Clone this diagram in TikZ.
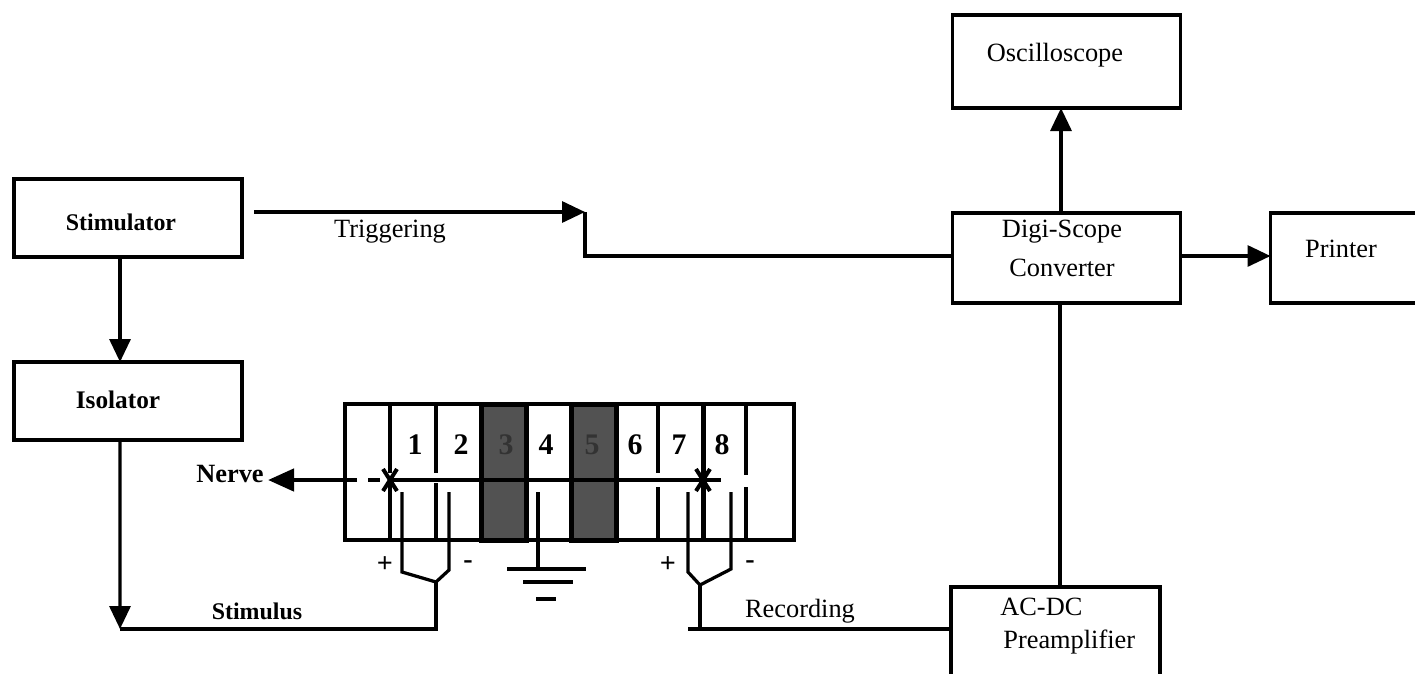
\documentclass[tikz,border=0pt]{standalone}
\usepackage{fontspec}
\setmainfont{Liberation Serif}
\usetikzlibrary{arrows.meta,positioning,calc}
\tikzset{
  box/.style        = {draw, line width=0.7mm, outer sep=0pt, minimum width=45.6mm, minimum height=18mm, inner sep=0pt},
  sig/.style        = {-{Triangle[length=4.6mm,width=4.2mm]}, line width=0.65mm},
  wire/.style       = {line width=0.65mm},
  bar/.style        = {line width=0.8mm},
  dark/.style       = {draw, line width=1mm, fill=black!68, outer sep=0pt, minimum width=9mm, inner sep=0pt},
  lbl/.style        = {font=\fontsize{15}{18}\selectfont, inner sep=0pt},
  blbl/.style       = {font=\fontsize{13.6}{16}\selectfont\bfseries, inner sep=0pt},
  num/.style        = {font=\fontsize{17}{20}\selectfont\bfseries, inner sep=0pt},
  sign/.style       = {font=\fontsize{16}{18}\selectfont\bfseries, inner sep=0pt},
}
\begin{document}
\begin{tikzpicture}[x=0.2mm,y=-0.2mm]
  \path[use as bounding box, clip] (0,0) rectangle (1415,673);
  % instruments
  \node[box, minimum height=15.6mm] (stim) at (128,218) {};
  \node[box, minimum height=15.6mm, below=21mm of stim] (isol) {};
  \node[box] (digi) at (1066.5,258) {};
  \node[box, minimum height=18.6mm, above=21mm of digi] (osc) {};
  \node[box, minimum width=34mm, right=18mm of digi] (printer) {};
  \node[box, minimum width=41.8mm, minimum height=24mm, anchor=north west] (preamp) at (951,587) {};
  \node[blbl] (stimtxt) at (121,222) {Stimulator};
  \node[blbl, font=\fontsize{14.4}{17}\selectfont\bfseries] (isoltxt) at (118,400) {Isolator};
  \node[lbl] (osctxt) at (1055,55) {Oscilloscope};
  \node[lbl] (digitxt) at (1062,232) {Digi-Scope};
  \node[lbl] (convtxt) at (1062,268) {Converter};
  \node[lbl] (printtxt) at (1341,249) {Printer};
  \node[lbl, anchor=west] (actxt) at (1000,607) {AC-DC};
  \node[lbl, anchor=west] (pretxt) at (1003,642) {Preamplifier};
  \node[lbl] (trigtxt) at (390,232) {Triggering};
  \node[blbl] (stimlbl) at (257,611) {Stimulus};
  \node[lbl] (reclbl) at (800,611) {Recording};
  \node[blbl, font=\fontsize{15}{18}\selectfont\bfseries] (nervelbl) at (230,474) {Nerve};
  % nerve chamber
  \node[draw, line width=0.7mm, outer sep=0pt, minimum width=89.8mm, minimum height=27.2mm, anchor=north west] (bath) at (345,404) {};
  \node[dark, minimum height=27.2mm, anchor=north] (cell3) at (503.5,404) {};
  \node[dark, minimum height=27.2mm, anchor=north] (cell5) at (593.5,404) {};
  \draw[wire] (390,404) -- (390,473) (390,483) -- (390,540);
  \draw[wire] (436,404) -- (436,473) (436,483) -- (436,540);
  \draw[wire] (658,404) -- (658,473) (658,487) -- (658,540);
  \draw[line width=1mm] (703,404) -- (703,540);
  \draw[wire] (746,404) -- (746,475) (746,487) -- (746,540);
  \node[num] (n1) at (415,445) {1};
  \node[num] (n2) at (461,445) {2};
  \node[num, text=black!80] (n3) at (506,445) {3};
  \node[num] (n4) at (546,445) {4};
  \node[num, text=black!80] (n5) at (592,445) {5};
  \node[num] (n6) at (635,445) {6};
  \node[num] (n7) at (679,445) {7};
  \node[num] (n8) at (722,445) {8};
  % nerve
  \coordinate (crossa) at (390,480);
  \coordinate (crossb) at (703,480);
  \coordinate (nervetip) at (268,480);
  \draw[-{Triangle[length=5.2mm,width=4.4mm]}, line width=0.9mm] (357,480) -- (nervetip);
  \draw[line width=0.8mm] (368,480) -- (380,480);
  \draw[wire] (crossa) -- (721,480);
  \draw[bar] ($(crossa)+(-7,-11)$) -- ($(crossa)+(7,11)$);
  \draw[bar] ($(crossa)+(7,-11)$) -- ($(crossa)+(-7,11)$);
  \draw[bar] ($(crossb)+(-7,-11)$) -- ($(crossb)+(7,11)$);
  \draw[bar] ($(crossb)+(7,-11)$) -- ($(crossb)+(-7,11)$);
  % electrodes
  \coordinate (stimfork) at (436,582);
  \coordinate (recfork) at (700,585);
  \coordinate (recend) at (688,629);
  \draw[wire] (402,492) -- (402,572) -- (stimfork) -- (449,570) -- (449,492);
  \draw[wire] (688,492) -- (688,572) -- (recfork) -- (731,569) -- (731,492);
  \draw[wire] (538,492) -- (538,569);
  \draw[bar] (507,569) -- (586,569);
  \draw[bar] (523,582) -- (573,582);
  \draw[bar] (536,599) -- (556,599);
  \node[sign] (plusa) at (385,565) {+};
  \node[sign] (minusa) at (468,565) {-};
  \node[sign] (plusb) at (668,565) {+};
  \node[sign] (minusb) at (750,565) {-};
  % signal paths
  \coordinate (trigtip) at (585,212);
  \draw[sig] ($(stim.south west)!.465!(stim.south east)$) -- ($(isol.north west)!.465!(isol.north east)$);
  \draw[sig] ($(isol.south west)!.465!(isol.south east)$) -- (120,629);
  \draw[wire] (120,629) -- (436,629) -- (stimfork);
  \draw[sig] ($(stim.east)+(12,-6)$) -- (trigtip);
  \draw[wire] (trigtip) -- (585,256) -- (digi.west |- 0,256);
  \draw[sig] (digi.north -| 1061,0) -- (osc.south -| 1061,0);
  \draw[sig] (digi.east |- 0,256) -- (printer.west |- 0,256);
  \draw[wire] (digi.south -| 1060,0) -- (preamp.north -| 1060,0);
  \draw[wire] (recend) -- (preamp.west |- recend);
  \draw[wire] (recfork) -- (700,629);
\end{tikzpicture}
\end{document}
